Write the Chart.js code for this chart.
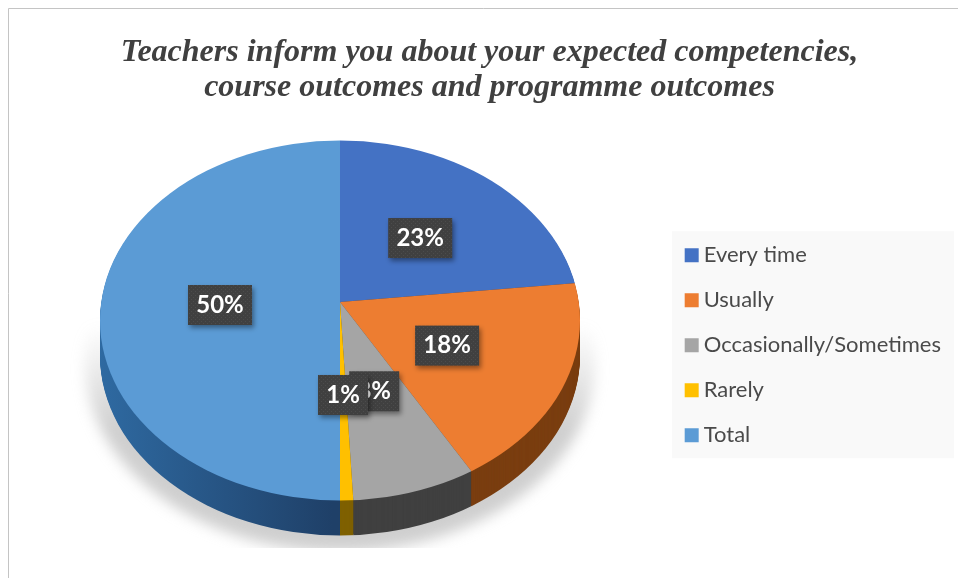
<!DOCTYPE html>
<html>
<head>
<meta charset="utf-8">
<style>html,body{margin:0;padding:0;background:#fff}canvas{display:block}</style>
<script src="https://cdn.jsdelivr.net/npm/chart.js@4/dist/chart.umd.min.js"></script>
</head>
<body>
<canvas id="c" width="958" height="578"></canvas>
<script>
const categories = ["Every time", "Usually", "Occasionally/Sometimes", "Rarely", "Total"];
const percentValues = [23.3, 18.3, 7.6, 0.8, 50];
const topColors = ["#4472c4", "#ed7d31", "#a5a5a5", "#ffc000", "#5b9bd5"];
const sideColors = ["#203864", "#7a3e10", "#404040", "#7f6000", "#24507c"];
const titleLines = ["Teachers inform you about your expected competencies,", "course outcomes and programme outcomes"];

// projected pie face
const face = {cx: 340, cy: 320.5, rx: 240, ry: 180, apexY: 302, squash: 0.75, depth: 35};

function clipFace(ctx, dy) {
  ctx.beginPath();
  ctx.ellipse(face.cx, face.cy + dy, face.rx, face.ry, 0, 0, Math.PI * 2);
  ctx.clip();
}
function project(ctx, arc, dy) {
  ctx.translate(face.cx, face.apexY + dy);
  ctx.scale(1, face.squash);
  ctx.translate(-arc.x, -arc.y);
}
const dotPattern = (() => {
  const p = document.createElement('canvas');
  p.width = p.height = 4;
  const g = p.getContext('2d');
  g.fillStyle = '#404040'; g.fillRect(0, 0, 4, 4);
  g.fillStyle = '#4c4c4c'; g.fillRect(1, 1, 1, 1); g.fillRect(3, 3, 1, 1);
  return p;
})();

const pie3d = {
  id: 'pie3d',
  beforeDraw(chart) {
    const ctx = chart.ctx;
    ctx.save();
    ctx.fillStyle = '#ffffff';
    ctx.fillRect(0, 0, chart.width, chart.height);
    // frame
    ctx.strokeStyle = '#c4c4c4';
    ctx.lineWidth = 1;
    ctx.beginPath();
    ctx.moveTo(8.5, chart.height);
    ctx.lineTo(8.5, 8.5);
    ctx.lineTo(chart.width, 8.5);
    ctx.stroke();
    // legend panel
    const hits = chart.legend.legendHitBoxes;
    const top = hits[0].top - 13;
    const bottom = hits[hits.length - 1].top + hits[hits.length - 1].height + 12;
    ctx.fillStyle = '#f9f9f9';
    ctx.fillRect(672, top, 282, bottom - top);
    ctx.restore();
  },
  beforeDatasetsDraw(chart) {
    const ctx = chart.ctx;
    const arcs = chart.getDatasetMeta(0).data;
    // soft ground shadow, fading out towards the top
    ctx.save();
    ctx.beginPath();
    ctx.rect(60, 300, 560, 248);
    ctx.clip();
    ctx.filter = 'blur(7px)';
    const shade = ctx.createLinearGradient(0, 325, 0, 430);
    shade.addColorStop(0, 'rgba(175,175,175,0)');
    shade.addColorStop(1, 'rgba(175,175,175,0.6)');
    ctx.fillStyle = shade;
    ctx.beginPath();
    ctx.ellipse(face.cx, face.cy + face.depth + 8, face.rx + 15, face.ry + 8, 0, 0, Math.PI * 2);
    ctx.fill();
    ctx.restore();
    // side wall
    const wallGrad = ctx.createLinearGradient(face.cx - face.rx, 0, face.cx, 0);
    wallGrad.addColorStop(0, '#2f6ba3');
    wallGrad.addColorStop(1, '#1f4068');
    for (let d = face.depth; d >= 1; d--) {
      ctx.save();
      clipFace(ctx, d);
      arcs.forEach((arc, i) => {
        ctx.save();
        ctx.setTransform(1, 0, 0, 1, 0, 0);
        project(ctx, arc, d);
        const saved = arc.options;
        arc.options = Object.assign({}, saved, {
          backgroundColor: i === 4 ? wallGrad : sideColors[i],
          borderWidth: 0, borderColor: 'transparent',
          offset: 0, spacing: 0, borderRadius: 0, circular: true,
          borderAlign: 'center', borderDash: [], borderDashOffset: 0, borderJoinStyle: 'round', selfJoin: false
        });
        arc.draw(ctx);
        arc.options = saved;
        ctx.restore();
      });
      ctx.restore();
    }
  },
  beforeDatasetDraw(chart) {
    const ctx = chart.ctx;
    const arc = chart.getDatasetMeta(0).data[0];
    ctx.save();
    clipFace(ctx, 0);
    project(ctx, arc, 0);
  },
  afterDatasetDraw(chart) {
    chart.ctx.restore();
  },
  afterDatasetsDraw(chart) {
    const ctx = chart.ctx;
    const arcs = chart.getDatasetMeta(0).data;
    ctx.save();
    ctx.font = 'bold 24px Lato';
    ctx.textAlign = 'center';
    ctx.textBaseline = 'middle';
    arcs.forEach((arc, i) => {
      const mid = (arc.startAngle + arc.endAngle) / 2;
      const x = face.cx + 120 * Math.cos(mid);
      const y = face.apexY + 120 * Math.sin(mid) * face.squash + 3;
      const text = Math.round(percentValues[i]) + '%';
      const w = text.length < 3 ? 50 : 64;
      const h = 40;
      ctx.save();
      ctx.shadowColor = 'rgba(0,0,0,0.4)';
      ctx.shadowBlur = 5;
      ctx.shadowOffsetX = 2;
      ctx.shadowOffsetY = 3;
      ctx.fillStyle = ctx.createPattern(dotPattern, 'repeat');
      ctx.fillRect(x - w / 2, y - h / 2, w, h);
      ctx.restore();
      ctx.fillStyle = '#ffffff';
      ctx.fillText(text, x, y);
    });
    ctx.restore();
  }
};

new Chart(document.getElementById('c'), {
  type: 'pie',
  data: {
    labels: categories,
    datasets: [{
      data: percentValues,
      backgroundColor: topColors,
      borderWidth: 0,
      radius: 300
    }]
  },
  plugins: [pie3d],
  options: {
    responsive: false,
    animation: false,
    events: [],
    layout: {padding: {left: 28, right: 7}},
    plugins: {
      tooltip: {enabled: false},
      title: {
        display: true,
        text: titleLines,
        color: '#404040',
        font: {family: 'Liberation Serif', size: 32, weight: 'bold', style: 'italic', lineHeight: 1.1},
        padding: {top: 35, bottom: 7}
      },
      legend: {
        position: 'right',
        align: 'center',
        fullSize: false,
        labels: {
          usePointStyle: true,
          pointStyle: 'rect',
          boxWidth: 2,
          boxHeight: 14,
          padding: 23,
          color: '#4a4a4a',
          font: {family: 'Lato', size: 22}
        }
      }
    }
  }
});
</script>
</body>
</html>
